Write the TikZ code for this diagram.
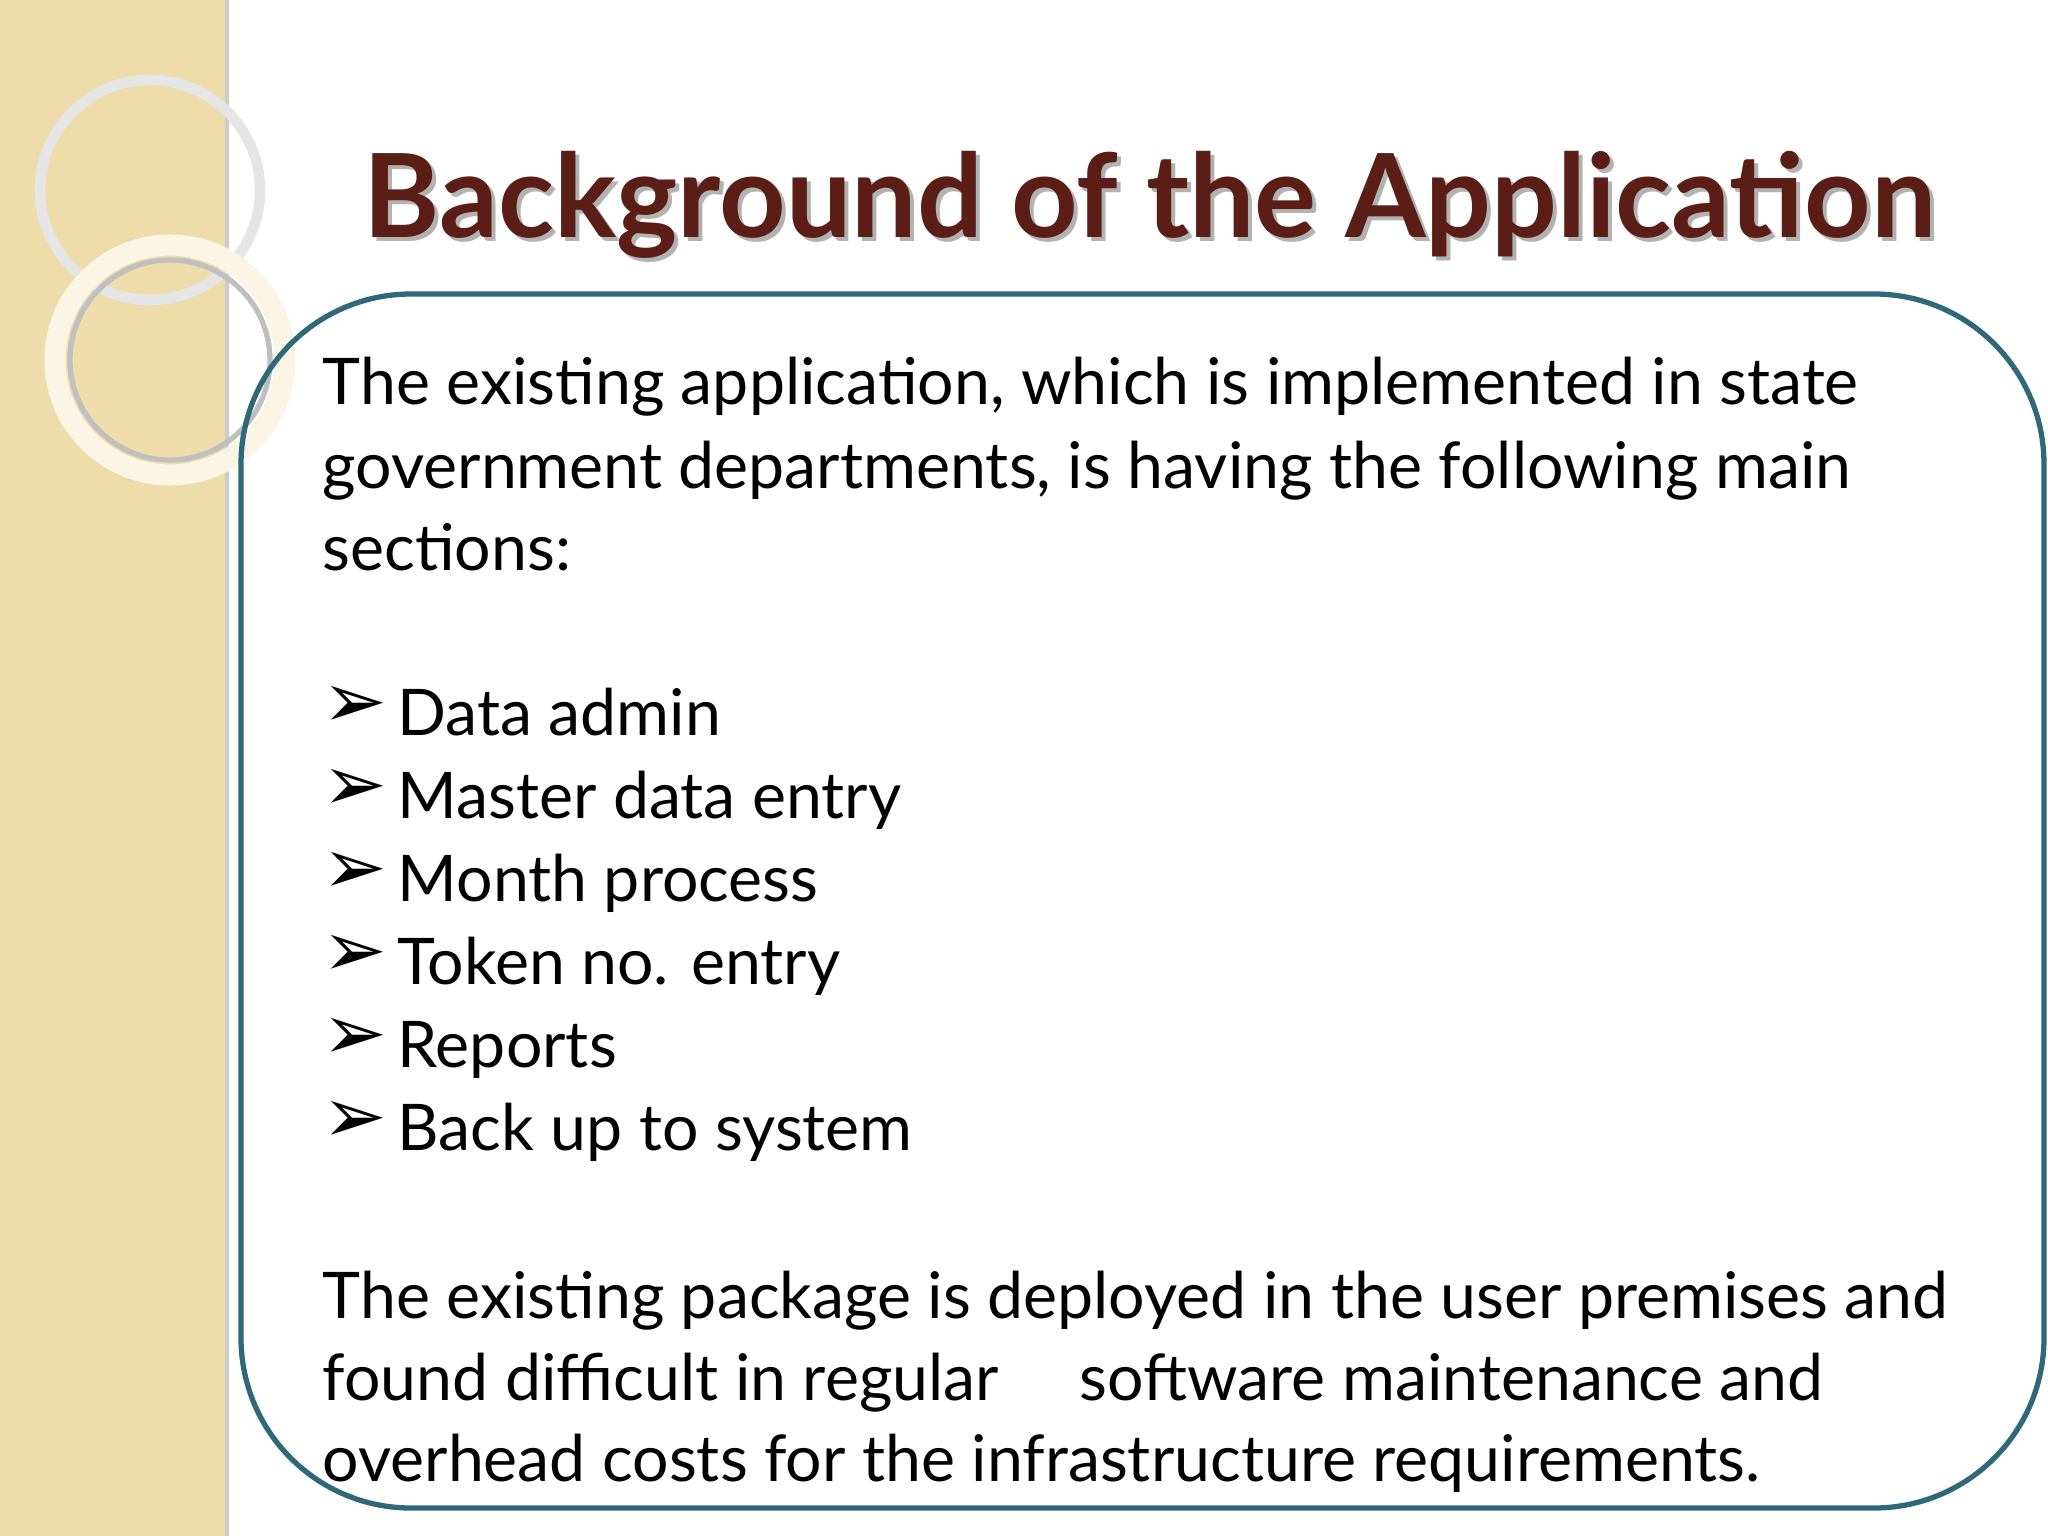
\documentclass[tikz,border=0pt]{standalone}
\usepackage{fontspec}
\setmainfont{Lato}
\newfontfamily\symf{DejaVu Sans}
\definecolor{band}{HTML}{EEDDAA}
\definecolor{titlec}{HTML}{5A1E16}
\definecolor{boxc}{HTML}{2F6878}
\tikzset{line/.style={anchor=base west,inner sep=0pt,font=\fontsize{18.3}{22}\selectfont},
 bul/.style={anchor=base west,inner sep=0pt,font=\symf\fontsize{22}{24}\selectfont}}
\begin{document}
\begin{tikzpicture}[x=0.01cm,y=-0.01cm]
\useasboundingbox (0,0) rectangle (2048,1536);
\fill[white] (0,0) rectangle (2048,1536);
\fill[band] (0,0) rectangle (229,1536);
\draw[gray!40,line width=1pt] (227,0) -- (227,1536);
\draw[white!80!gray,line width=3pt] (150,190) circle (110);
\draw[white!70!band,line width=6pt] (170,360) circle (115);
\draw[gray!50,line width=1.5pt] (170,360) circle (100);
\node[text=gray!60,font=\bfseries\fontsize{33}{40}\selectfont] at (1154,209) {Background of the Application};
\node[text=titlec,font=\bfseries\fontsize{33}{40}\selectfont] (title) at (1150,205) {Background of the Application};
\draw[boxc,line width=1.5pt,rounded corners=1.7cm] (241,294) rectangle (2044,1508);
\node[line] (l1) at (322,404) {The existing application, which is implemented in state};
\node[line] (l2) at (322,488) {government departments, is having the following main};
\node[line] (l3) at (322,570) {sections:};
\foreach \t [count=\i] in {Data admin,Master data entry,Month process,Token no. entry,Reports,Back up to system}{
  \node[bul] (b\i) at (322,{735+83*(\i-1)-8}) {➢};
  \node[line] (t\i) at (397,{735+83*(\i-1)}) {\t};
}
\node[line] (p1) at (322,1318) {The existing package is deployed in the user premises and};
\node[line] (p2) at (322,1400) {found difficult in regular \quad software maintenance and};
\node[line] (p3) at (322,1481) {overhead costs for the infrastructure requirements.};
\end{tikzpicture}
\end{document}
